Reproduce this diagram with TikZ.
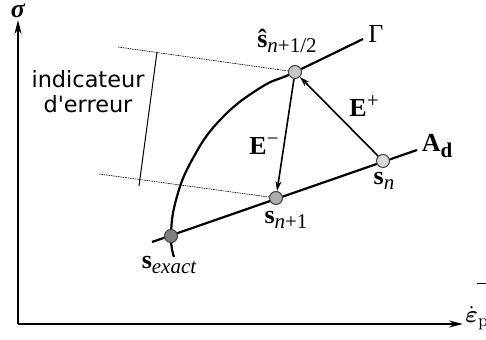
\documentclass[tikz,border=0pt]{standalone}
\usepackage{amsmath,amssymb}
\usepackage{fontspec}
\newfontfamily\dejavu{DejaVu Sans}
\newfontfamily\timesf{Liberation Serif}
\usetikzlibrary{arrows.meta}
\newcommand{\sbs}[2]{{\bfseries #1}\raisebox{-0.45ex}{\fontsize{10.5}{10.5}\selectfont #2}}
\newcommand{\sps}[2]{{\bfseries #1}\raisebox{0.75ex}{\fontsize{10.5}{10.5}\selectfont #2}}

\begin{document}
\begin{tikzpicture}[x=0.5pt, y=-0.5pt, font=\timesf\fontsize{13}{15}\selectfont, >={Stealth[length=5pt,width=3pt]},
	pt/.style={circle, draw=black!75, line width=0.5pt, inner sep=0pt, minimum size=6.5pt},
	dotline/.style={line width=0.3pt, dash pattern=on 0.8pt off 0.4pt},
	curve/.style={line width=1.1pt}]
	\useasboundingbox (0,0) rectangle (486,340);
	\clip (0,0) rectangle (486,340);
	% axes
	\coordinate (O) at (18,324);
	\coordinate (ytop) at (18,20);
	\coordinate (xend) at (463,324);
	\draw[line width=1pt, -{Stealth[length=7pt,width=3.5pt]}] (O) -- (ytop);
	\draw[line width=1pt, -{Stealth[length=7pt,width=3.5pt]}] (O) -- (xend);
	\node (sig) at (18,11) {\bfseries\itshape σ};
	\node[anchor=west, inner sep=1pt] (eps) at (463,318) {\fontsize{12.5}{14}\selectfont$\dot{\boldsymbol{\varepsilon}}_{\mathrm{p}}$};
	\coordinate (bar0) at (477,284);
	\coordinate (bar1) at (486,284);
	\draw[line width=0.5pt] (bar0) -- (bar1);
	% error indicator
	\coordinate (dt0) at (118,47);
	\coordinate (db0) at (99,174);
	\coordinate (sh) at (295,72);
	\coordinate (sn1) at (276,198);
	\draw[dotline] (dt0) -- (sh);
	\draw[dotline] (db0) -- (sn1);
	\coordinate (ind0) at (157,52);
	\coordinate (ind1) at (139,186);
	\draw[line width=0.5pt] (ind0) -- (ind1);
	\node[align=center, font=\dejavu\fontsize{11.2}{12.5}\selectfont] (indic) at (88,92) {indicateur\\d'erreur};
	% Gamma and A_d
	\draw[curve] plot[smooth, tension=0.75] coordinates {(174,257) (171,236) (176,200) (192,160) (220,120) (260,88) (295,72) (363,39)};
	\coordinate (ad0) at (152,242);
	\coordinate (ad1) at (417,150);
	\draw[curve] (ad0) -- (ad1);
	% points
	\node[pt, fill=black!22] (shc) at (sh) {};
	\node[pt, fill=black!15] (snc) at (383,161) {};
	\node[pt, fill=black!32] (sn1c) at (sn1) {};
	\node[pt, fill=black!50] (sexc) at (171,236) {};
	\draw[->, line width=0.8pt] (snc) -- (shc);
	\draw[->, line width=0.8pt] (shc) -- (sn1c);
	% labels
	\node (lsh) at (287,41) {\sbs{\^{s}}{\itshape n\upshape+1/2}};
	\node (lgam) at (376,34) {Γ};
	\node (lep) at (364,106) {\sps{E}{+}};
	\node (lem) at (264,146) {\sps{E}{−}};
	\node (lsn) at (384,181) {\sbs{s}{\itshape n}};
	\node (lsn1) at (286,220) {\sbs{s}{\itshape n\upshape+1}};
	\node (lsex) at (169,265) {\sbs{s}{\itshape exact}};
	\node (lad) at (437,146) {\sbs{A}{\bfseries d}};
\end{tikzpicture}
\end{document}
